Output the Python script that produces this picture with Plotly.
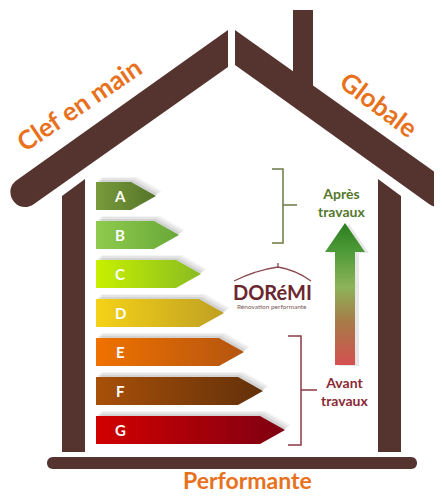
import plotly.graph_objects as go

# ---- data ----
ratings = ["A", "B", "C", "D", "E", "F", "G"]
bar_lengths = [60, 83, 105, 128, 148, 167, 189]
bar_colors_left = ["#7A9A3C", "#8FCB4E", "#C8F000", "#F5D218", "#F07200", "#A85008", "#D20000"]
bar_colors_right = ["#55752A", "#68A838", "#88BC22", "#BFA022", "#B45510", "#62300A", "#7E0012"]
labels_top = ["Clef en main", "Globale"]
label_bottom = "Performante"
after_text = "Après<br>travaux"
before_text = "Avant<br>travaux"

W, H = 442, 496
OFF = 8  # page body margin
HOUSE = "#55342F"
ORANGE = "#E8711E"

fig = go.Figure()
shapes = []

# ---- house ----
def path(d, color=HOUSE):
    shapes.append(dict(type="path", path=d, fillcolor=color, line=dict(width=0), layer="below"))

path("M228,30 L228,67 L34,204 C17.7,215.6 0.7,191.6 17,180 Z")
path("M235,30 L235,65 L429,204 C445.3,215.6 462.3,191.6 446,180 Z")
path("M293,10 L313,10 L313,95 L293,80 Z")
path("M62,196 L85,179 L85,452 L62,452 Z")
path("M378,179 L401,196 L401,452 L378,452 Z")
path("M53,457 L411,457 C419,457 419,469 411,469 L53,469 C45,469 45,457 53,457 Z")

# ---- energy bars ----
x0 = 96
y_first, y_step, bar_h, tip = 196, 39, 28, 25
for i, (r, L) in enumerate(zip(ratings, bar_lengths)):
    yc = y_first + i * y_step
    xt = x0 + L
    xr = xt - tip
    xs = [x0, xr, xt, xr, x0, x0]
    ys = [yc - bar_h / 2, yc - bar_h / 2, yc, yc + bar_h / 2, yc + bar_h / 2, yc - bar_h / 2]
    for dx, dy, a in [(6, -5, 0.06), (4, -4, 0.08), (2, -2, 0.10)]:
        fig.add_trace(go.Scatter(x=[v + dx for v in xs], y=[v + dy for v in ys], fill="toself",
                                 fillcolor=f"rgba(60,60,60,{a})", mode="lines", line=dict(width=0),
                                 hoverinfo="skip", showlegend=False))
    fig.add_trace(go.Scatter(x=xs, y=ys, fill="toself", mode="lines", line=dict(width=0),
                             fillgradient=dict(type="horizontal",
                                               colorscale=[[0, bar_colors_left[i]], [1, bar_colors_right[i]]],
                                               start=x0, stop=xt),
                             hoverinfo="skip", showlegend=False))
    fig.add_annotation(x=120, y=yc, text=f"<b>{r}</b>", showarrow=False,
                       font=dict(family="Lato", size=15, color="white"), xanchor="center", yanchor="middle")

# ---- gradient arrow ----
ax = [335, 335, 325, 345, 365, 355, 355, 335]
ay = [365, 252, 252, 223, 252, 252, 365, 365]
fig.add_trace(go.Scatter(x=[v + 4 for v in ax], y=[v + 1 for v in ay], fill="toself",
                         fillcolor="rgba(60,60,60,0.12)", mode="lines", line=dict(width=0),
                         hoverinfo="skip", showlegend=False))
fig.add_trace(go.Scatter(x=ax, y=ay, fill="toself", mode="lines", line=dict(width=0),
                         fillgradient=dict(type="vertical",
                                           colorscale=[[0, "#D45050"], [0.3, "#A87A48"], [0.55, "#8DB358"],
                                                       [0.8, "#4E9A38"], [1, "#2A7E1E"]],
                                           start=365, stop=223),
                         hoverinfo="skip", showlegend=False))

# ---- brackets ----
GREEN_B = "#6B7A48"
RED_B = "#8A3A44"
for d, c in [("M272,169 L283,169 L283,243 L272,243 M283,205 L297,205", GREEN_B),
             ("M288,336 L301,336 L301,445 L288,445 M301,390 L317,390", RED_B)]:
    shapes.append(dict(type="path", path=d, line=dict(color=c, width=1.5), layer="above"))

fig.add_annotation(x=341, y=202, text=f"<b>{after_text}</b>", showarrow=False,
                   font=dict(family="Lato", size=14, color="#55782C"), align="center")
fig.add_annotation(x=344, y=391, text=f"<b>{before_text}</b>", showarrow=False,
                   font=dict(family="Lato", size=14, color="#8A2A36"), align="center")

# ---- logo ----
shapes.append(dict(type="path", path="M234,281 Q256,270 278,267 Q296,270 311,281",
                   line=dict(color="#8A4A50", width=1.3)))
shapes.append(dict(type="path", path="M278,267 L278,263", line=dict(color="#8A4A50", width=1.3)))
fig.add_annotation(x=272, y=292, text="<b>DORéMI</b>", showarrow=False,
                   font=dict(family="Lato", size=20, color="#6A2730"))
fig.add_annotation(x=272, y=306, text="Rénovation performante", showarrow=False,
                   font=dict(family="Lato", size=6.5, color="#7A5A55"))

# ---- titles ----
fig.add_annotation(x=79, y=104, text=f"<b>{labels_top[0]}</b>", showarrow=False, textangle=-34,
                   font=dict(family="Lato", size=26, color=ORANGE))
fig.add_annotation(x=379, y=104, text=f"<b>{labels_top[1]}</b>", showarrow=False, textangle=37,
                   font=dict(family="Lato", size=26, color=ORANGE))
fig.add_annotation(x=247, y=480, text=f"<b>{label_bottom}</b>", showarrow=False,
                   font=dict(family="Lato", size=23, color=ORANGE), borderpad=0)

fig.update_layout(
    width=W, height=H, margin=dict(l=0, r=0, t=0, b=0),
    paper_bgcolor="white", plot_bgcolor="white",
    xaxis=dict(range=[OFF, W + OFF], visible=False, fixedrange=True),
    yaxis=dict(range=[H + OFF, OFF], visible=False, fixedrange=True),
    shapes=shapes, showlegend=False,
)
fig.write_html("out.html")
